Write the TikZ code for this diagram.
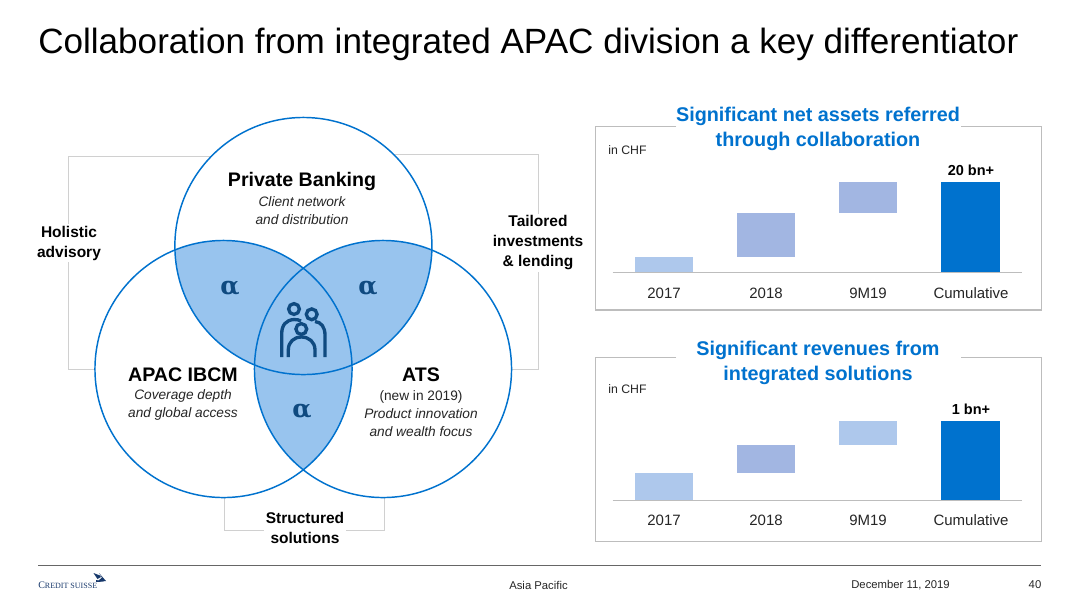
\documentclass[tikz,border=0pt]{standalone}
\usepackage{fontspec}
\setmainfont{Liberation Sans}
\newfontfamily\logofont{Liberation Serif}
\newfontfamily\alphafont{DejaVu Serif}
\definecolor{csblue}{HTML}{0072CE}
\definecolor{lens}{HTML}{98C4EE}
\definecolor{navy}{HTML}{0F4A80}
\definecolor{barA}{HTML}{AEC8EC}
\definecolor{barB}{HTML}{A2B6E2}
\definecolor{rule}{HTML}{D0D0D0}
\definecolor{frameline}{HTML}{BDBDBD}
\definecolor{logoblue}{HTML}{17386B}
\newcommand{\fs}[2]{\fontsize{\the\dimexpr#1pt*3/4\relax}{\the\dimexpr#2pt*3/4\relax}\selectfont}
\tikzset{
  x=0.75pt,y=-0.75pt,
  bracket/.style={draw=rule,line width=0.7pt},
  framebox/.style={draw=frameline,line width=0.8pt},
  ring/.style={circle,draw=csblue,line width=1.1pt,minimum size=192.8pt,inner sep=0pt},
  head/.style={font=\fs{19.6}{25}\bfseries,inner sep=0pt,text=black},
  sub/.style={font=\fs{13.7}{18}\itshape,align=center,inner sep=0pt,text=black!85},
  side/.style={font=\fs{15.5}{20}\bfseries,align=center,fill=white,inner sep=1.5pt,text=black},
  ctitle/.style={font=\fs{19.8}{25}\bfseries,align=center,inner sep=0pt,text=csblue},
  tick/.style={font=\fs{15}{18},inner sep=0pt,text=black!85},
  small/.style={font=\fs{12.3}{15},inner sep=0pt,text=black!85},
  total/.style={font=\fs{14.5}{17}\bfseries,inner sep=0pt,text=black},
  foot/.style={font=\fs{11.3}{15},inner sep=0pt,text=black!85},
  alph/.style={font=\fs{25}{28}\alphafont\bfseries,inner sep=0pt,text=navy},
  fam/.style={draw=navy,line width=2.5pt,line cap=butt},
}
\begin{document}
\begin{tikzpicture}
\useasboundingbox (0,0) rectangle (1080,608);
\fill[white] (0,0) rectangle (1080,608);

% title
\node[anchor=base west,inner sep=0pt,font=\fs{35.1}{38},text=black] (title) at (38,53) {Collaboration from integrated APAC division a key differentiator};

% brackets behind the circles
\draw[bracket] (230,156) -- (68,156) -- (68,369) -- (120,369);
\draw[bracket] (380,154) -- (538,154) -- (538,369) -- (480,369);
\draw[bracket] (224,480) -- (224,530) -- (384,530) -- (384,480);

% circles
\coordinate (ct) at (303.4,246);
\coordinate (cl) at (223.5,369);
\coordinate (cr) at (383,369);
\fill[white] (ct) circle (128.5);
\fill[white] (cl) circle (128.5);
\fill[white] (cr) circle (128.5);
\begin{scope}
  \clip (ct) circle (128.5);
  \fill[lens] (cl) circle (128.5);
  \fill[lens] (cr) circle (128.5);
\end{scope}
\begin{scope}
  \clip (cl) circle (128.5);
  \fill[lens] (cr) circle (128.5);
\end{scope}
\node[ring] (ringT) at (ct) {};
\node[ring] (ringL) at (cl) {};
\node[ring] (ringR) at (cr) {};

% circle labels
\node[head] (pb) at (302,181) {Private Banking};
\node[sub] (pbs) at (302,211) {Client network\\and distribution};
\node[head] (ib) at (183,375) {APAC IBCM};
\node[sub] (ibs) at (183,405) {Coverage depth\\and global access};
\node[head] (ats) at (421,375) {ATS};
\node[sub] (atss) at (421,414) {\upshape (new in 2019)\\Product innovation\\and wealth focus};
\node[alph] (a1) at (230,288) {α};
\node[alph] (a2) at (368,288) {α};
\node[alph] (a3) at (302,411) {α};

% side labels
\node[side] (hol) at (69,243) {Holistic\\advisory};
\node[side] (tai) at (538,243) {Tailored\\investments\\\& lending};
\node[side] (str) at (305,528) {Structured\\solutions};

% family icon
\draw[fam] (294,309) circle (5.4);
\draw[fam] (311.7,314.3) circle (5.4);
\draw[fam] (301.3,329) circle (5.4);
\draw[fam] (281.7,357) -- (281.7,334) .. controls (281.7,325) and (286,320) .. (294,319.5) .. controls (297,319.5) and (299,320) .. (301,321);
\draw[fam] (325,357) -- (325,335) .. controls (325,327) and (321,322) .. (315,321.5);
\draw[fam] (288.3,357) -- (288.3,350) .. controls (288.3,342) and (294,337) .. (301.5,337) .. controls (309,337) and (315,342) .. (315,350) -- (315,357);

% chart 1
\draw[framebox] (676,126.7) -- (595.3,126.7) -- (595.3,310) -- (1041.7,310) -- (1041.7,126.7) -- (961,126.7);
\fill[barA] (634.7,257) rectangle (693,272.7);
\fill[barB] (737,213) rectangle (795,257);
\fill[barB] (839,182.3) rectangle (897,213);
\fill[csblue] (941,182.3) rectangle (999.7,272.7);
\draw[framebox] (612.7,272.7) -- (1021.7,272.7);
\node[ctitle] (t1) at (818,129) {Significant net assets referred\\through collaboration};
\node[small,anchor=west] (u1) at (608,150.5) {in CHF};
\node[total] (v1) at (971,170) {20 bn+};
\node[tick] (x11) at (664,293) {2017};
\node[tick] (x12) at (766,293) {2018};
\node[tick] (x13) at (868,293) {9M19};
\node[tick] (x14) at (971,293) {Cumulative};

% chart 2
\draw[framebox] (676,357.7) -- (595.3,357.7) -- (595.3,541.3) -- (1041.7,541.3) -- (1041.7,357.7) -- (961,357.7);
\fill[barA] (634.7,473.3) rectangle (693,500.3);
\fill[barB] (737,445) rectangle (795,473.3);
\fill[barA] (839,421) rectangle (897,445);
\fill[csblue] (941,421) rectangle (999.7,500.3);
\draw[framebox] (612.7,500.3) -- (1021.7,500.3);
\node[ctitle] (t2) at (818,363) {Significant revenues from\\integrated solutions};
\node[small,anchor=west] (u2) at (608,389) {in CHF};
\node[total] (v2) at (971,409) {1 bn+};
\node[tick] (x21) at (664,520) {2017};
\node[tick] (x22) at (766,520) {2018};
\node[tick] (x23) at (868,520) {9M19};
\node[tick] (x24) at (971,520) {Cumulative};

% footer
\draw[draw=black!60,line width=0.8pt] (38,565.5) -- (1041,565.5);
\node[foot] (f1) at (538.5,585) {Asia Pacific};
\node[foot] (f2) at (900.5,585) {December 11, 2019};
\node[foot] (f3) at (1035,585) {40};

% logo
\node[anchor=base west,inner sep=0pt,text=logoblue,font=\fs{10}{13}\logofont] (logo) at (38,588) {C\fs{8}{13}REDIT S\fs{8}{13}UISSE};
\fill[logoblue] (93.5,573) -- (100,575.5) -- (101,577) -- (97.5,579) -- cycle;
\fill[logoblue] (99,573) -- (106,581) -- (98,581) -- (102,577.5) -- cycle;
\fill[logoblue] (96,580) -- (104,581.5) -- (96,582) -- cycle;
\end{tikzpicture}
\end{document}
